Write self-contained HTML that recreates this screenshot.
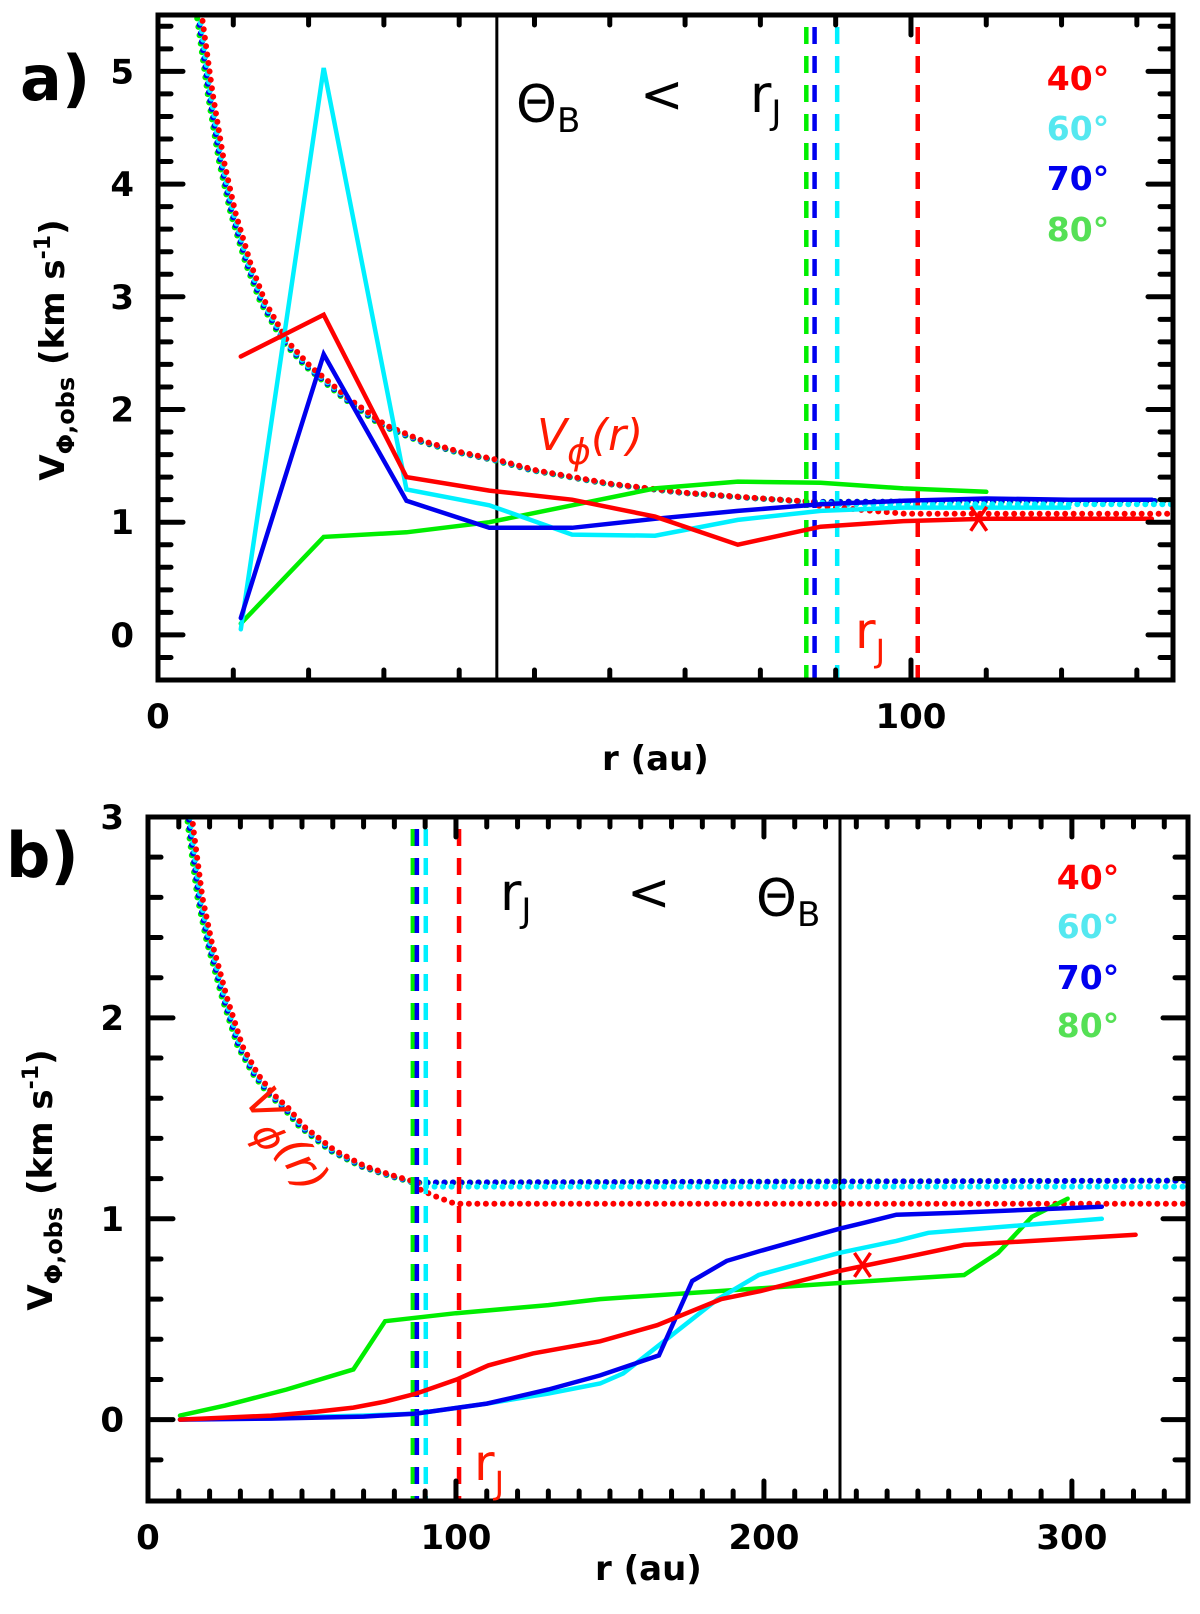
<!DOCTYPE html>
<html><head><meta charset="utf-8"><style>
html,body{margin:0;padding:0;background:#fff;}
svg{display:block;font-family:"DejaVu Sans","Liberation Sans",sans-serif;}
</style></head><body>
<svg id="fig" width="1200" height="1614" viewBox="0 0 1200 1614">
<defs>
<clipPath id="clipA"><rect x="158" y="15" width="1015" height="665"/></clipPath>
<clipPath id="clipB"><rect x="148" y="817" width="1040" height="684"/></clipPath>
</defs>
<g id="panelA"></g>
<g id="panelB"></g>
</svg>
<script>
// ---------- Panel a data ----------
const aRadii = [11,22,33,44,55,66,77,88,99,110,121,132];
const a40 = [2.47,2.84,1.40,1.28,1.20,1.05,0.80,0.96,1.01,1.03,1.03,1.03];
const a60 = [0.05,5.03,1.29,1.15,0.89,0.88,1.02,1.10,1.13,1.13,1.13];
const a70 = [0.15,2.49,1.19,0.95,0.95,1.03,1.10,1.16,1.19,1.21,1.20,1.20];
const a80 = [0.10,0.87,0.91,1.00,1.15,1.30,1.36,1.35,1.30,1.27];
const aRJ = {red:100.9, cyan:90.2, blue:87.2, green:86.1};
const aThetaB = 45;
const aCross = [109,1.03];
// ---------- Panel b data ----------
const b40r = [10.4,25,40,55,66.7,77,87.2,100.2,110.5,125,146.8,165.3,186.2,198.9,224.4,246.5,265,320.7];
const b40v = [0.0,0.01,0.02,0.04,0.06,0.09,0.13,0.20,0.27,0.33,0.39,0.47,0.60,0.64,0.74,0.81,0.87,0.92];
const b60r = [10.4,40,70,87,110,130,146.8,154.3,165.9,185,198.3,224.4,243,253.4,309.7];
const b60v = [0.0,0.01,0.02,0.03,0.08,0.13,0.18,0.23,0.37,0.60,0.72,0.83,0.89,0.93,1.00];
const b70r = [10.4,40,70,87,110,130,146.8,165.9,176.7,187.9,198.9,224.4,232.5,243,262.7,309.7];
const b70v = [0.0,0.005,0.015,0.03,0.08,0.15,0.22,0.32,0.69,0.79,0.84,0.95,0.98,1.02,1.03,1.06];
const b80r = [10.4,25,45,66.7,77,100,130,146.8,224.4,265,276,287,298.6];
const b80v = [0.02,0.07,0.15,0.25,0.49,0.53,0.57,0.60,0.68,0.72,0.83,1.01,1.10];
const bRJ = {red:101, cyan:90.2, blue:87.3, green:86};
const bThetaB = 224.7;
const bCross = [232,0.77];
// ---------- V_phi(r) curve ----------
const vphiR = [5.6,7,8.5,10,12,14,17,20,22,25,30,35,40,45,50,60,70,80,87];
const vphiV = [5.47,4.8,4.2,3.75,3.3,2.95,2.6,2.38,2.27,2.1,1.86,1.72,1.62,1.55,1.46,1.34,1.26,1.21,1.18];
const flatLevels = {green:1.19, blue:1.19, cyan:1.16, red:1.075};
const redTailR = [87,93,99];
const redTailV = [1.15,1.11,1.075];

const NS='http://www.w3.org/2000/svg';
const C={red:'#ff0000',cyan:'#00f0ff',blue:'#0000ee',green:'#00ee00'};
const LEG={red:'#ff0000',cyan:'#55e8f0',blue:'#0000ee',green:'#55e055'};
const OFF={green:-3,blue:-1.5,cyan:0,red:2};
function mk(parent,tag,attrs,text){const e=document.createElementNS(NS,tag);for(const k in attrs)e.setAttribute(k,attrs[k]);if(text!==undefined)e.textContent=text;parent.appendChild(e);return e;}

function panel(g,cfg){
  const X=v=>cfg.x0+(v-cfg.xmin)/(cfg.xmax-cfg.xmin)*(cfg.x1-cfg.x0);
  const Y=v=>cfg.y1-(v-cfg.ymin)/(cfg.ymax-cfg.ymin)*(cfg.y1-cfg.y0);
  const plot=mk(g,'g',{'clip-path':'url(#'+cfg.clip+')'});
  
  
  const tb=mk(plot,'line',{x1:X(cfg.thetaB),x2:X(cfg.thetaB),y1:cfg.y0,y2:cfg.y1,stroke:'#000','stroke-width':3});
  
  
  ['green','blue','cyan','red'].forEach((col,ci)=>{
    let pts=vphiR.map((r,i)=>[r,vphiV[i]]);
    if(col==='red'){pts=pts.concat(redTailR.map((r,i)=>[r,redTailV[i]]));}
    else if(col==='cyan'){pts.push([cfg.rj.cyan,flatLevels.cyan]);}
    pts.push([cfg.xmax+5,flatLevels[col]]);
    const o=OFF[col];
    const d=pts.map((p,i)=>(i?'L':'M')+(X(p[0])+o).toFixed(1)+','+Y(p[1]).toFixed(1)).join('');
    const p=mk(plot,'path',{d:d,fill:'none',stroke:C[col],'stroke-width':6,'stroke-linecap':'round','stroke-dasharray':'0 8.5','stroke-dashoffset':ci*2});
    
    
  });
  ['green','blue','cyan','red'].forEach(col=>{
    const l=mk(plot,'line',{x1:X(cfg.rj[col]),x2:X(cfg.rj[col]),y1:cfg.y0+12,y2:cfg.y1,stroke:C[col],'stroke-width':4.5,'stroke-dasharray':'17 12'});
    
    
  });
  cfg.series.forEach(s=>{
    const d=s.r.map((r,i)=>(i?'L':'M')+X(r).toFixed(1)+','+Y(s.v[i]).toFixed(1)).join('');
    const p=mk(plot,'path',{d:d,fill:'none',stroke:C[s.col],'stroke-width':4.5,'stroke-linejoin':'miter','stroke-linecap':'round'});
    
    
  });
  const cx=X(cfg.cross[0]),cy=Y(cfg.cross[1]);
  const cr=mk(plot,'path',{d:`M${cx-8},${cy-12}L${cx+8},${cy+12}M${cx+8},${cy-12}L${cx-8},${cy+12}`,stroke:'#ff0000','stroke-width':3.5,fill:'none'});
  
  
  const tk=mk(g,'g',{stroke:'#000','stroke-width':5,'stroke-linecap':'round'});
  
  
  for(let v=0;v<=cfg.xmax;v+=cfg.xminor){
    const major=Math.abs(v%cfg.xmajor)<1e-6; const L=major?20:10; const x=X(v);
    if(x<cfg.x0+4||x>cfg.x1-4) continue;
    mk(tk,'line',{x1:x,x2:x,y1:cfg.y1,y2:cfg.y1-L});
    mk(tk,'line',{x1:x,x2:x,y1:cfg.y0,y2:cfg.y0+L});
  }
  for(let k=Math.ceil(cfg.ymin/cfg.yminor);k*cfg.yminor<=cfg.ymax;k++){
    const v=k*cfg.yminor; const major=Math.abs(v-Math.round(v))<1e-6; const L=major?25:13; const y=Y(v);
    if(y<cfg.y0+4||y>cfg.y1-4) continue;
    mk(tk,'line',{x1:cfg.x0,x2:cfg.x0+L,y1:y,y2:y});
    mk(tk,'line',{x1:cfg.x1,x2:cfg.x1-L,y1:y,y2:y});
  }
  const fr=mk(g,'rect',{x:cfg.x0,y:cfg.y0,width:cfg.x1-cfg.x0,height:cfg.y1-cfg.y0,fill:'none',stroke:'#000','stroke-width':5});
  
  
  cfg.xlabels.forEach(v=>{
    const t=mk(g,'text',{x:X(v),y:cfg.y1+48,'text-anchor':'middle','font-size':34,'font-weight':'bold'},String(v));
    
    
  });
  cfg.ylabels.forEach(v=>{
    const t=mk(g,'text',{x:cfg.x0-24,y:Y(v)+12,'text-anchor':'end','font-size':34,'font-weight':'bold'},String(v));
    
    
  });
  return {X,Y};
}

const gA=document.getElementById('panelA');
panel(gA,{x0:158,x1:1173,y0:15,y1:680,xmin:0,xmax:134.8,ymin:-0.4,ymax:5.5,clip:'clipA',
  xminor:10,xmajor:100,yminor:0.2,thetaB:aThetaB,rj:aRJ,cross:aCross,
  xlabels:[0,100],ylabels:[0,1,2,3,4,5],
  series:[{name:'a-80deg',col:'green',r:aRadii.slice(0,a80.length),v:a80},
          {name:'a-60deg',col:'cyan',r:aRadii.slice(0,a60.length),v:a60},
          {name:'a-70deg',col:'blue',r:aRadii.slice(0,a70.length),v:a70},
          {name:'a-40deg',col:'red',r:aRadii.slice(0,a40.length),v:a40}]});
const gB=document.getElementById('panelB');
panel(gB,{x0:148,x1:1188,y0:817,y1:1501,xmin:0,xmax:337.7,ymin:-0.405,ymax:3,clip:'clipB',
  xminor:10,xmajor:100,yminor:0.2,thetaB:bThetaB,rj:bRJ,cross:bCross,
  xlabels:[0,100,200,300],ylabels:[0,1,2,3],
  series:[{name:'b-80deg',col:'green',r:b80r,v:b80v},
          {name:'b-60deg',col:'cyan',r:b60r,v:b60v},
          {name:'b-70deg',col:'blue',r:b70r,v:b70v},
          {name:'b-40deg',col:'red',r:b40r,v:b40v}]});

function txt(g,name,x,y,s,attrs){const t=mk(g,'text',Object.assign({x:x,y:y},attrs||{}));t.innerHTML=s;return t;}
txt(gA,'panel-label-a',20,100,'a)',{'font-size':62,'font-weight':'bold'});
txt(gA,'theta-b-label',516,122,'Θ<tspan font-size="34" dy="10">B</tspan>',{'font-size':52});
txt(gA,'less-than-label',640,112,'&lt;',{'font-size':52});
txt(gA,'rj-label-top',750,112,'r<tspan font-size="34" dy="12">J</tspan>',{'font-size':52});
txt(gA,'vphi-label-a',537,450,'V<tspan font-size="36" dy="14">ϕ</tspan><tspan dy="-14">(r)</tspan>',{'font-size':44,'font-style':'italic',fill:'#ff1a00'});
txt(gA,'rj-label-a',855,648,'r<tspan font-size="32" dy="14">J</tspan>',{'font-size':50,fill:'#ff1a00'});
txt(gA,'x-axis-title-a',602,770,'r (au)',{'font-size':34,'font-weight':'bold'});
txt(gA,'y-axis-title-a',0,0,'V<tspan font-size="24" dy="10">Φ,obs</tspan><tspan dy="-10"> (km s</tspan><tspan font-size="22" dy="-14">-1</tspan><tspan dy="14">)</tspan>',{'font-size':34,'font-weight':'bold','text-anchor':'middle',transform:'translate(64,350) rotate(-90)'});
const legA=[['40°','red',90],['60°','cyan',140],['70°','blue',190],['80°','green',241]];
legA.forEach(l=>txt(gA,'legend-entry-'+l[0].replace('°','deg'),1078,l[2],l[0],{'font-size':33,'font-weight':'bold',fill:LEG[l[1]],'text-anchor':'middle'}));
txt(gB,'panel-label-b',6,877,'b)',{'font-size':62,'font-weight':'bold'});
txt(gB,'rj-label-top-b',500,910,'r<tspan font-size="34" dy="12">J</tspan>',{'font-size':52});
txt(gB,'less-than-label-b',627,910,'&lt;',{'font-size':52});
txt(gB,'theta-b-label-b',756,916,'Θ<tspan font-size="34" dy="10">B</tspan>',{'font-size':52});
txt(gB,'vphi-label-b',0,0,'V<tspan font-size="40" dy="12">ϕ</tspan><tspan dy="-12">(r)</tspan>',{'font-size':46,'font-style':'italic',fill:'#ff1a00',transform:'translate(244,1100) rotate(58)'});
txt(gB,'rj-label-b',474,1480,'r<tspan font-size="32" dy="14">J</tspan>',{'font-size':50,fill:'#ff1a00'});
txt(gB,'x-axis-title-b',595,1580,'r (au)',{'font-size':34,'font-weight':'bold'});
txt(gB,'y-axis-title-b',0,0,'V<tspan font-size="24" dy="10">Φ,obs</tspan><tspan dy="-10"> (km s</tspan><tspan font-size="22" dy="-14">-1</tspan><tspan dy="14">)</tspan>',{'font-size':34,'font-weight':'bold','text-anchor':'middle',transform:'translate(52,1180) rotate(-90)'});
const legB=[['40°','red',889],['60°','cyan',938],['70°','blue',989],['80°','green',1037]];
legB.forEach(l=>txt(gB,'legend-entry-b-'+l[0].replace('°','deg'),1088,l[2],l[0],{'font-size':33,'font-weight':'bold',fill:LEG[l[1]],'text-anchor':'middle'}));
</script>
</body></html>
